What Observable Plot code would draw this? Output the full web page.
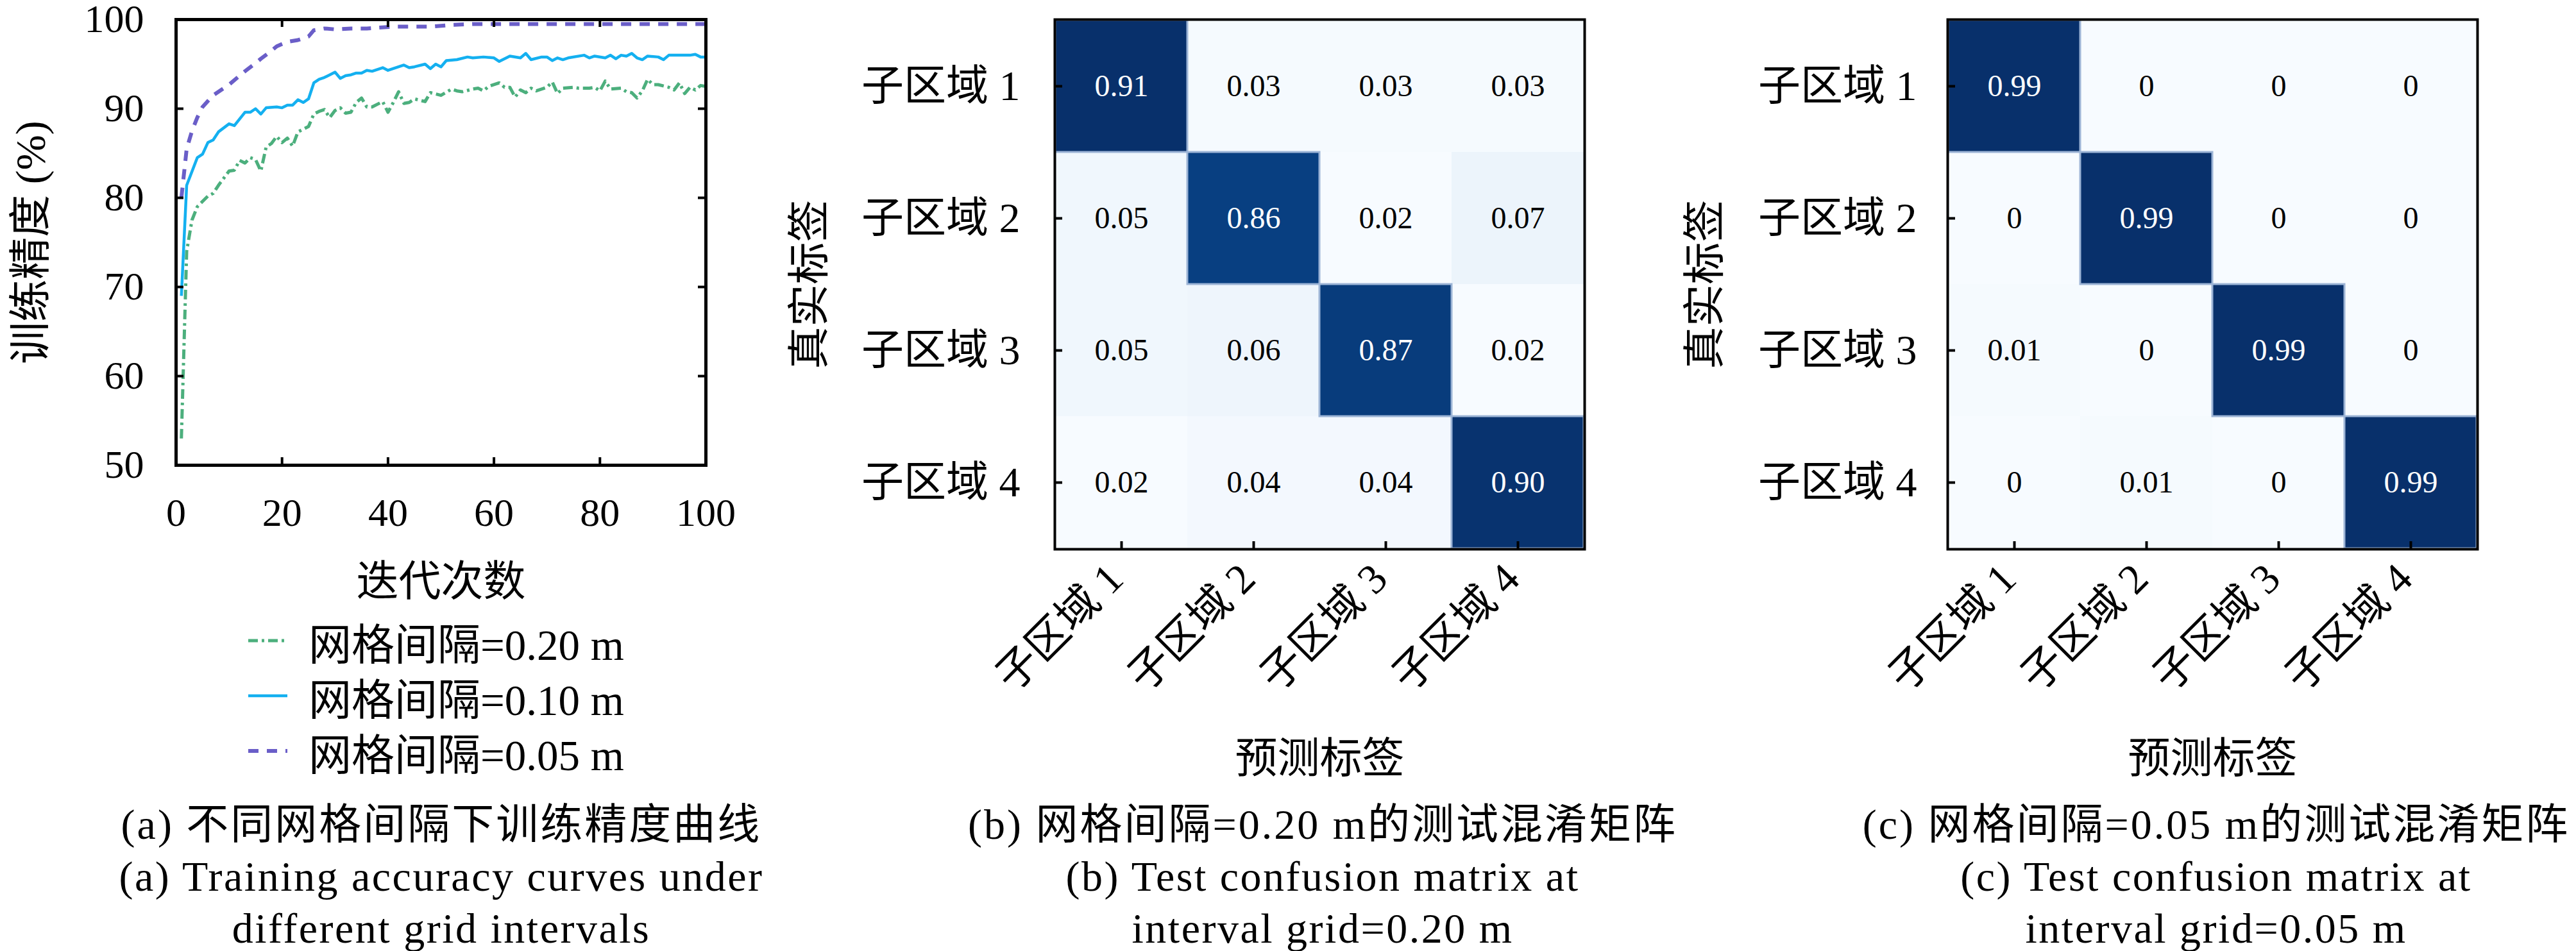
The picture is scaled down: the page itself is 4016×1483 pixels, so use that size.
<!DOCTYPE html>
<html><head><meta charset="utf-8">
<script src="https://cdn.jsdelivr.net/npm/d3@7"></script>
<script src="https://cdn.jsdelivr.net/npm/@observablehq/plot@0.6"></script>
<style>
html,body{margin:0;padding:0;background:#fff;}
#root{position:relative;width:4016px;height:1483px;overflow:hidden;background:#fff;font-family:"Liberation Serif","Noto Sans CJK SC",serif;color:#000;}
.panel{position:absolute;top:0;}
.cap{position:absolute;text-align:center;font-size:66px;line-height:81px;white-space:nowrap;width:1400px;}
.zh{letter-spacing:3px;}
.en{letter-spacing:2.5px;}
.leg{position:absolute;left:387px;top:956px;font-size:67px;}
.legrow{display:flex;align-items:center;height:86px;white-space:nowrap;}
.legrow svg{margin-right:33px;}
</style></head><body><div id="root"></div>
<script>
const FONT = '"Liberation Serif", "Noto Sans CJK SC", serif';

// ---------- Panel (a): training accuracy curves ----------
const xTicks = [0, 20, 40, 60, 80, 100];
const yTicks = [50, 60, 70, 80, 90, 100];
const xLabelA = "迭代次数";
const yLabelA = "训练精度 (%)";
const seriesNames = ["网格间隔=0.20 m", "网格间隔=0.10 m", "网格间隔=0.05 m"];
const seriesColors = ["#4caf7d", "#14b0f0", "#6a5ec8"];

// grid = 0.20 m (green, dash-dot)
const iterG = [1,2,3,4,5,6,7,8,10,11,12,13,14,15,16,17,18,19,20,21,22,23,24,25,26,27,28,29,30,31,32,33,34,35,36,37,39,40,41,42,43,44,45,47,48,50,52,53,54,56,57,58,59,61,62,63,64,65,66,67,68,70,71,72,73,75,76,78,79,80,81,82,84,85,86,87,88,89,90,91,93,94,95,96,97,98,99,100];
const accG  = [53.0,74.0,77.5,79.0,79.6,80.2,80.5,81.4,83.0,83.1,84.2,83.9,84.5,84.3,83.0,85.7,86.1,86.9,86.2,86.7,85.8,87.4,87.7,88.0,89.4,89.7,89.9,89.0,89.8,90.1,89.5,89.6,90.7,91.2,90.2,90.2,90.8,89.6,90.7,91.9,90.6,90.7,91.1,90.8,91.8,91.5,92.2,92.0,91.9,92.2,92.3,92.0,92.5,92.9,92.4,92.4,91.3,92.1,91.8,92.3,92.0,92.4,93.0,91.7,92.3,92.4,92.3,92.3,92.4,92.0,93.1,92.2,92.3,91.9,91.8,91.2,92.0,93.3,92.7,92.7,92.4,92.1,92.9,91.7,92.4,92.1,92.6,92.5];

// grid = 0.10 m (blue, solid)
const iterB = [1,2,4,5,6,7,8,10,11,13,14,15,16,17,19,20,21,22,23,24,25,26,27,28,29,30,31,32,33,34,35,36,37,39,40,41,43,44,45,47,48,49,50,51,53,55,56,58,60,61,63,65,66,67,69,70,71,72,73,74,77,78,79,81,82,83,84,85,86,87,88,89,91,92,93,95,97,98,99,100];
const accB  = [69.0,81.4,84.5,84.9,86.2,86.5,87.4,88.3,88.1,89.6,89.6,90.0,89.4,90.1,90.2,90.1,90.4,90.4,91.0,90.7,91.1,92.9,93.3,93.5,93.8,94.1,93.4,93.7,93.8,94.0,94.0,94.3,94.2,94.6,94.3,94.5,94.9,94.6,94.7,95.0,94.5,95.0,94.7,95.4,95.5,95.8,95.7,95.8,95.7,95.3,95.9,95.7,96.2,95.5,95.8,95.8,95.4,95.7,95.5,95.7,96.0,95.7,95.9,95.7,96.0,95.6,96.0,95.9,96.2,95.7,95.5,95.9,95.8,95.5,96.0,96.0,96.0,96.1,95.8,95.8];

// grid = 0.05 m (purple, dashed)
const iterP = [1,2,3,4,5,7,9,10,13,15,16,18,19,21,23,25,26,28,30,33,36,41,44,48,52,56,60,64,68,75,80,85,90,95,100];
const accP  = [80.0,85.5,87.5,89.0,90.2,91.5,92.3,92.7,94.2,95.1,95.6,96.5,97.0,97.5,97.7,98.1,98.8,99.0,98.9,99.0,99.0,99.2,99.2,99.2,99.4,99.5,99.5,99.5,99.5,99.5,99.5,99.5,99.5,99.5,99.5];

// ---------- Panels (b), (c): confusion matrices ----------
const regions = ["子区域 1", "子区域 2", "子区域 3", "子区域 4"];
const cmB = [
  [0.91, 0.03, 0.03, 0.03],
  [0.05, 0.86, 0.02, 0.07],
  [0.05, 0.06, 0.87, 0.02],
  [0.02, 0.04, 0.04, 0.90]
];
const cmC = [
  [0.99, 0, 0, 0],
  [0, 0.99, 0, 0],
  [0.01, 0, 0.99, 0],
  [0, 0.01, 0, 0.99]
];
const xLabelCM = "预测标签";
const yLabelCM = "真实标签";

const captionsA = ["(a) 不同网格间隔下训练精度曲线", "(a) Training accuracy curves under", "different grid intervals"];
const captionsB = ["(b) 网格间隔=0.20 m的测试混淆矩阵", "(b) Test confusion matrix at", "interval grid=0.20 m"];
const captionsC = ["(c) 网格间隔=0.05 m的测试混淆矩阵", "(c) Test confusion matrix at", "interval grid=0.05 m"];

// ---------- build ----------
const root = document.getElementById("root");
const baseStyle = {fontFamily: FONT, fontSize: "62px", background: "transparent", maxWidth: "none", overflow: "visible", color: "black"};

const seriesIters = [iterG, iterB, iterP];
const seriesAcc = [accG, accB, accP];
const seriesDash = ["15,6,4,6", null, "16,13"];
const seriesWidth = [5, 4.5, 6];
const lineData = seriesIters.map((it, k) => it.map((x, i) => ({x, y: seriesAcc[k][i]})));

const innerA = {w: 826, h: 695};
const plotA = Plot.plot({
  width: 1150, height: 960,
  marginLeft: 274, marginRight: 50, marginTop: 30, marginBottom: 235,
  style: baseStyle,
  x: {domain: [0, 100]},
  y: {domain: [50, 100]},
  marks: [
    ...lineData.map((d, k) => Plot.line(d, {x: "x", y: "y", stroke: seriesColors[k], strokeWidth: seriesWidth[k], strokeDasharray: seriesDash[k], strokeLinejoin: "round", strokeLinecap: "butt"})),
    Plot.frame({stroke: "black", strokeWidth: 5}),
    Plot.tickX(xTicks.slice(1, -1), {x: d => d, insetTop: innerA.h - 12, stroke: "black", strokeWidth: 4}),
    Plot.tickX(xTicks.slice(1, -1), {x: d => d, insetBottom: innerA.h - 12, stroke: "black", strokeWidth: 4}),
    Plot.tickY(yTicks.slice(1, -1), {y: d => d, insetRight: innerA.w - 12, stroke: "black", strokeWidth: 4}),
    Plot.tickY(yTicks.slice(1, -1), {y: d => d, insetLeft: innerA.w - 12, stroke: "black", strokeWidth: 4}),
    Plot.axisX({ticks: xTicks, tickSize: 0, tickPadding: 50, label: null, tickFormat: d => String(d)}),
    Plot.axisY({ticks: yTicks, tickSize: 0, tickPadding: 50, label: null, tickFormat: d => String(d)}),
    Plot.text([xLabelA], {text: d => d, frameAnchor: "bottom", textAnchor: "middle", dy: 203, fontSize: 66}),
    Plot.text([yLabelA], {text: d => d, frameAnchor: "left", textAnchor: "middle", dx: -226, rotate: -90, fontSize: 66})
  ]
});

function fmt(v) { return v === 0 ? "0" : v.toFixed(2); }
function toCells(m) {
  const out = [];
  m.forEach((row, i) => row.forEach((v, j) => out.push({truth: regions[i], pred: regions[j], value: v})));
  return out;
}
function cmPlot(m, marginLeft, marginRight, yLabelDx, tickPad) {
  const cells = toCells(m);
  const ext = d3.extent(cells, d => d.value);
  const S = 826;
  return Plot.plot({
    width: marginLeft + S + marginRight, height: 1240,
    marginLeft, marginRight, marginTop: 30, marginBottom: 1240 - 30 - S,
    style: {...baseStyle, fontSize: "66px"},
    x: {domain: regions, padding: 0, axis: null},
    y: {domain: regions, padding: 0, axis: null},
    color: {type: "linear", scheme: "blues", domain: ext},
    marks: [
      Plot.cell(cells, {x: "pred", y: "truth", fill: "value"}),
      Plot.cell(cells.filter(d => d.value > 0.5), {x: "pred", y: "truth", fill: "none", stroke: "#9cb4d6", strokeWidth: 3}),
      Plot.text(cells.filter(d => d.value <= 0.5), {x: "pred", y: "truth", text: d => fmt(d.value), fill: "black", fontSize: 48}),
      Plot.text(cells.filter(d => d.value > 0.5), {x: "pred", y: "truth", text: d => fmt(d.value), fill: "white", fontSize: 48}),
      Plot.frame({stroke: "black", strokeWidth: 4}),
      Plot.tickY(regions, {y: d => d, insetRight: S - 12, stroke: "black", strokeWidth: 4}),
      Plot.tickX(regions, {x: d => d, insetTop: S - 12, stroke: "black", strokeWidth: 4}),
      Plot.axisY({tickSize: 0, tickPadding: tickPad, label: null}),
      Plot.text(regions, {x: d => d, text: d => d, frameAnchor: "bottom", rotate: -45, textAnchor: "end", dy: 50, dx: 6, fontSize: 66}),
      Plot.text([xLabelCM], {text: d => d, frameAnchor: "bottom", textAnchor: "middle", dy: 348, fontSize: 66}),
      Plot.text([yLabelCM], {text: d => d, frameAnchor: "left", textAnchor: "middle", dx: yLabelDx, rotate: -90, fontSize: 66})
    ]
  });
}
const plotB = cmPlot(cmB, 444, 50, -382, 54);
const plotC = cmPlot(cmC, 436, 50, -378, 48);

function place(node, left, width) {
  const div = document.createElement("div");
  div.className = "panel";
  div.style.left = left + "px";
  div.style.width = width + "px";
  div.appendChild(node);
  root.appendChild(div);
}
place(plotA, 0, 1150);
place(plotB, 1200, 444 + 826 + 50);
place(plotC, 2600, 436 + 826 + 50);

// legend (below panel a)
const leg = document.createElement("div");
leg.className = "leg";
seriesNames.forEach((name, k) => {
  const row = document.createElement("div");
  row.className = "legrow";
  const ns = "http://www.w3.org/2000/svg";
  const svg = document.createElementNS(ns, "svg");
  svg.setAttribute("width", 61); svg.setAttribute("height", 20);
  const ln = document.createElementNS(ns, "line");
  ln.setAttribute("x1", 0); ln.setAttribute("x2", 61); ln.setAttribute("y1", 10); ln.setAttribute("y2", 10);
  ln.setAttribute("stroke", seriesColors[k]);
  ln.setAttribute("stroke-width", seriesWidth[k]);
  if (seriesDash[k]) ln.setAttribute("stroke-dasharray", seriesDash[k]);
  svg.appendChild(ln);
  row.appendChild(svg);
  const t = document.createElement("span");
  t.textContent = name;
  row.appendChild(t);
  leg.appendChild(row);
});
root.appendChild(leg);

// captions
function caption(lines, center) {
  const div = document.createElement("div");
  div.className = "cap";
  div.style.left = (center - 700) + "px";
  div.style.top = "1245px";
  lines.forEach((s, i) => {
    const d = document.createElement("div");
    d.textContent = s;
    d.className = i === 0 ? "zh" : "en";
    div.appendChild(d);
  });
  root.appendChild(div);
}
caption(captionsA, 688);
caption(captionsB, 2062);
caption(captionsC, 3455);
</script></body></html>
